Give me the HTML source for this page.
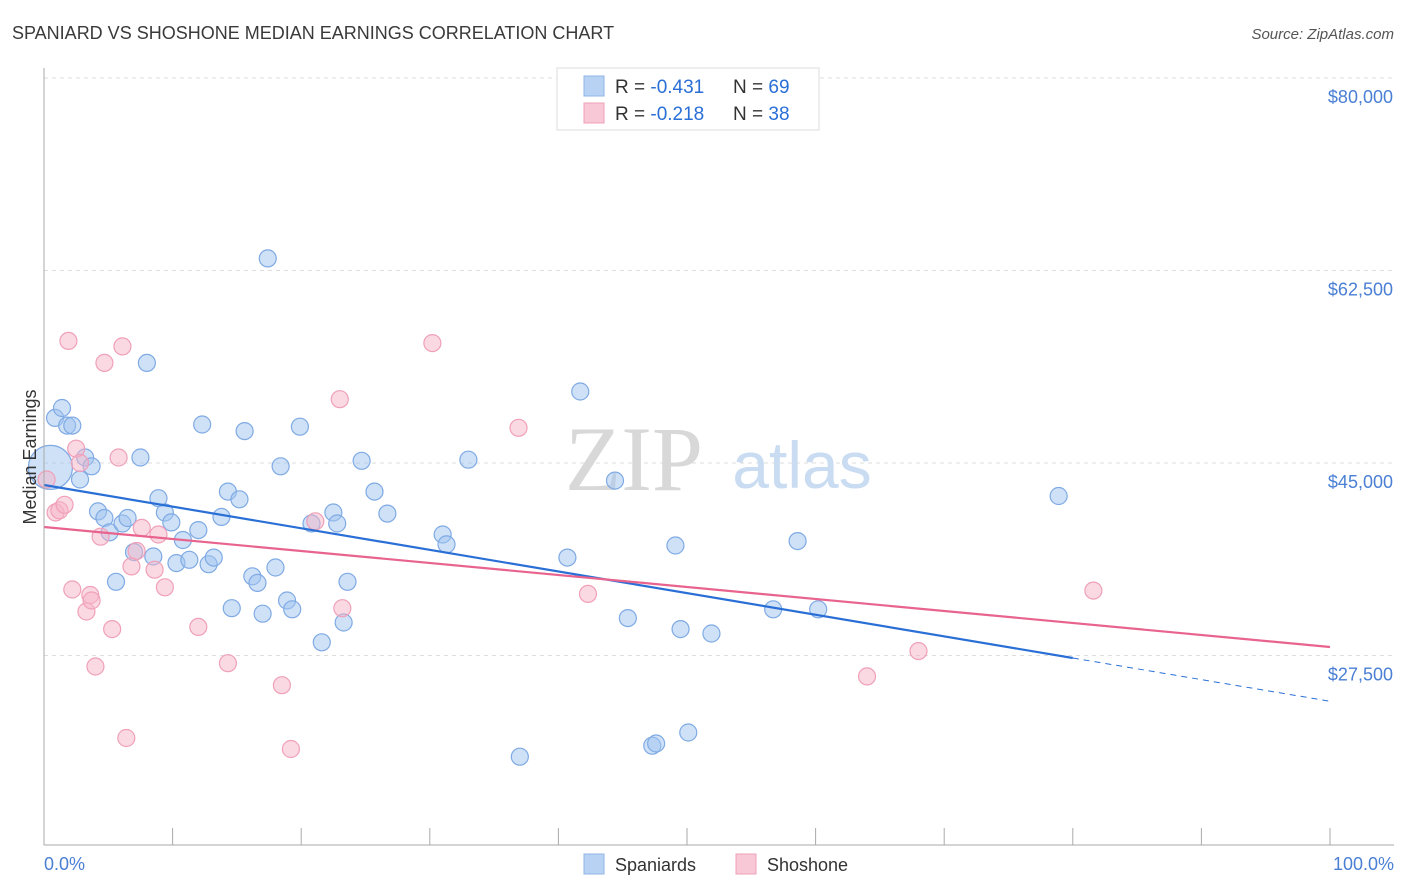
<!DOCTYPE html>
<html><head><meta charset="utf-8"><style>
body{margin:0;background:#fff;font-family:"Liberation Sans",sans-serif;}
svg{display:block}
</style></head><body>
<svg width="1406" height="892" xmlns="http://www.w3.org/2000/svg">
<text x="12" y="39" font-size="18" fill="#3a3a3a">SPANIARD VS SHOSHONE MEDIAN EARNINGS CORRELATION CHART</text>
<text x="1394" y="39" font-size="15" fill="#555" font-style="italic" text-anchor="end">Source: ZipAtlas.com</text>
<g id="grid"></g>
<text x="634" y="490" font-size="92" fill="#d8d8d8" font-family="Liberation Serif,serif" text-anchor="middle">ZIP</text>
<text x="802" y="488" font-size="66" fill="#c9dcf2" text-anchor="middle">atlas</text>
<g id="pts"></g>
<g id="trend"></g>
<line x1="44" y1="68" x2="44" y2="845" stroke="#aaa"/>
<line x1="44" y1="845" x2="1394" y2="845" stroke="#aaa"/>
<g id="xticks"></g>
<text x="36" y="457" font-size="18" fill="#333" transform="rotate(-90 36 457)" text-anchor="middle">Median Earnings</text>
<text x="44" y="870" font-size="18" fill="#4a7fd4">0.0%</text>
<text x="1394" y="870" font-size="18" fill="#4a7fd4" text-anchor="end">100.0%</text>
<g>
<rect x="557" y="68" width="262" height="62" fill="#fff" stroke="#ddd"/>
<rect x="584" y="76" width="20" height="20" fill="#b8d2f4" stroke="#8fb5e6"/>
<text x="615" y="93" font-size="19" fill="#333">R = <tspan fill="#2a6fd6">-0.431</tspan></text>
<text x="733" y="93" font-size="19" fill="#333">N = <tspan fill="#2a6fd6">69</tspan></text>
<rect x="584" y="103" width="20" height="20" fill="#f9c8d6" stroke="#f0a0b8"/>
<text x="615" y="120" font-size="19" fill="#333">R = <tspan fill="#2a6fd6">-0.218</tspan></text>
<text x="733" y="120" font-size="19" fill="#333">N = <tspan fill="#2a6fd6">38</tspan></text>
</g>
<g>
<rect x="584" y="854" width="20" height="20" fill="#b8d2f4" stroke="#8fb5e6"/>
<text x="615" y="871" font-size="18" fill="#333">Spaniards</text>
<rect x="736" y="854" width="20" height="20" fill="#f9c8d6" stroke="#f0a0b8"/>
<text x="767" y="871" font-size="18" fill="#333">Shoshone</text>
</g>
</svg>
<script>
const yTicks=[80000,62500,45000,27500];
const yTickLabels=["$80,000","$62,500","$45,000","$27,500"];
const xTicks=[0,10,20,30,40,50,60,70,80,90,100];
const blueX=[0.86,1.4,1.8,2.2,0.5,2.8,3.2,3.7,4.2,4.7,5.1,5.6,6.1,6.5,7.0,7.5,8.0,8.5,8.9,9.4,9.9,10.3,10.8,11.3,12.0,12.3,12.8,13.2,13.8,14.3,14.6,15.2,15.6,16.2,16.6,17.0,17.4,18.0,18.4,18.9,19.3,19.9,20.8,21.6,22.5,22.8,23.3,23.6,24.7,25.7,26.7,31.0,31.3,33.0,37.0,40.7,41.7,44.4,45.4,47.3,47.6,49.1,49.5,50.1,51.9,56.7,58.6,60.2,78.9];
const blueY=[49.1,50.0,48.4,48.4,44.6,43.5,45.5,44.7,40.6,40.0,38.7,34.2,39.5,40.0,36.9,45.5,54.1,36.5,41.8,40.5,39.6,35.9,38.0,36.2,38.9,48.5,35.8,36.4,40.1,42.4,31.8,41.7,47.9,34.7,34.1,31.3,63.6,35.5,44.7,32.5,31.7,48.3,39.5,28.7,40.5,39.5,30.5,34.2,45.2,42.4,40.4,38.5,37.6,45.3,18.3,36.4,51.5,43.4,30.9,19.3,19.5,37.5,29.9,20.5,29.5,31.7,37.9,31.7,42.0];
const pinkX=[0.2,0.9,1.2,1.6,1.9,2.2,2.5,2.8,3.3,3.6,3.7,4.0,4.4,4.7,5.3,5.8,6.1,6.4,6.8,7.2,7.6,8.6,8.9,9.4,12.0,14.3,18.5,19.2,21.1,23.0,23.2,30.2,36.9,42.3,64.0,68.0,81.6];
const pinkY=[43.5,40.5,40.7,41.2,56.1,33.5,46.3,45.0,31.5,33.0,32.5,26.5,38.3,54.1,29.9,45.5,55.6,20.0,35.6,37.0,39.1,35.3,38.5,33.7,30.1,26.8,24.8,19.0,39.7,50.8,31.8,55.9,48.2,33.1,25.6,27.9,33.4];
const blueTrend=[43000,27273];
const blueTrendEndPct=80;
const pinkTrend=[39182,28273];
const NS="http://www.w3.org/2000/svg";
const sx=p=>44+p*12.86;
const sy=v=>78+(80000-v)*0.011;
function mk(tag,attrs,parent){const e=document.createElementNS(NS,tag);for(const k in attrs)e.setAttribute(k,attrs[k]);parent.appendChild(e);return e;}
const grid=document.getElementById('grid');
yTicks.forEach((v,i)=>{
  const l=mk('line',{x1:44,x2:1394,y1:sy(v),y2:sy(v),stroke:'#ddd','stroke-dasharray':'4 4'},grid);
  
  
  const t=mk('text',{x:1393,y:sy(v)+25,'font-size':18,fill:'#4a7fd4','text-anchor':'end'},grid);
  t.textContent=yTickLabels[i];
  
  
});
const xt=document.getElementById('xticks');
xTicks.forEach(p=>{
  const l=mk('line',{x1:sx(p),x2:sx(p),y1:828,y2:845,stroke:'#aaa'},xt);
  
  
});
const pts=document.getElementById('pts');
blueX.forEach((x,i)=>{
  const c=mk('circle',{cx:sx(x),cy:sy(blueY[i]*1000),r:i===4?22:8.5,fill:'rgba(160,196,240,0.5)',stroke:'#7faae4','stroke-width':1.2},pts);
  
  
});
pinkX.forEach((x,i)=>{
  const c=mk('circle',{cx:sx(x),cy:sy(pinkY[i]*1000),r:8.5,fill:'rgba(245,180,200,0.5)',stroke:'#f0a0b8','stroke-width':1.2},pts);
  
  
});
const tr=document.getElementById('trend');
const bSlope=(blueTrend[1]-blueTrend[0])/blueTrendEndPct;
let l=mk('line',{x1:sx(0),y1:sy(blueTrend[0]),x2:sx(blueTrendEndPct),y2:sy(blueTrend[1]),stroke:'#2a6fd6','stroke-width':2.2},tr);


l=mk('line',{x1:sx(blueTrendEndPct),y1:sy(blueTrend[1]),x2:sx(100),y2:sy(blueTrend[0]+bSlope*100),stroke:'#2a6fd6','stroke-width':1,'stroke-dasharray':'6 5'},tr);


l=mk('line',{x1:sx(0),y1:sy(pinkTrend[0]),x2:sx(100),y2:sy(pinkTrend[1]),stroke:'#e8648e','stroke-width':2.2},tr);


</script>
</body></html>
